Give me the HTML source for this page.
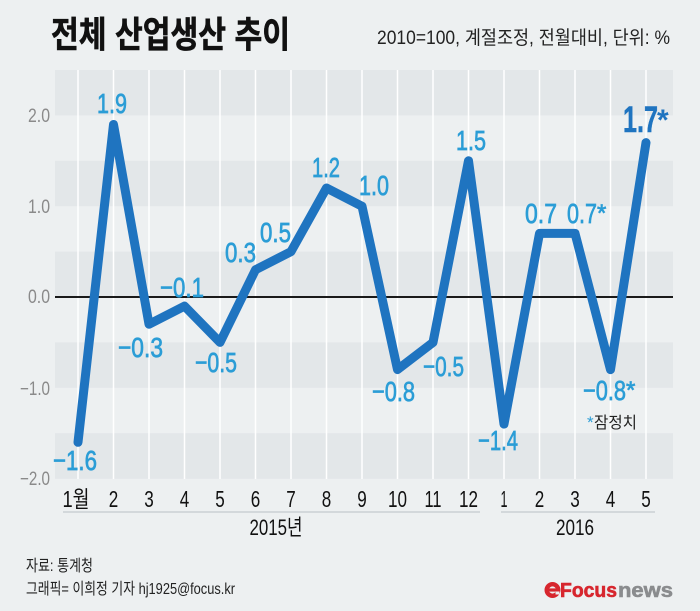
<!DOCTYPE html>
<html>
<head>
<meta charset="utf-8">
<style>
  html,body{margin:0;padding:0;background:#edf0f1;}
  svg{display:block;}
  text{font-family:"Liberation Sans","Noto Sans CJK KR",sans-serif;}
</style>
</head>
<body>
<svg width="700" height="611" viewBox="0 0 700 611" xmlns="http://www.w3.org/2000/svg">
  <rect x="0" y="0" width="700" height="611" fill="#edf0f1"/>

  <!-- bands -->
  <rect x="55" y="70" width="618" height="45.4" fill="#e3e7e9"/>
  <rect x="55" y="160.8" width="618" height="45.4" fill="#e3e7e9"/>
  <rect x="55" y="251.6" width="618" height="45.4" fill="#e3e7e9"/>
  <rect x="55" y="342.4" width="618" height="45.4" fill="#e3e7e9"/>
  <rect x="55" y="433.2" width="618" height="45.6" fill="#e3e7e9"/>

  <!-- vertical gridlines -->
  <g stroke="#ffffff" stroke-width="1.5">
    <line x1="78" y1="70" x2="78" y2="479"/>
    <line x1="113.5" y1="70" x2="113.5" y2="479"/>
    <line x1="149" y1="70" x2="149" y2="479"/>
    <line x1="184.5" y1="70" x2="184.5" y2="479"/>
    <line x1="220" y1="70" x2="220" y2="479"/>
    <line x1="255.5" y1="70" x2="255.5" y2="479"/>
    <line x1="291" y1="70" x2="291" y2="479"/>
    <line x1="326.5" y1="70" x2="326.5" y2="479"/>
    <line x1="362" y1="70" x2="362" y2="479"/>
    <line x1="397.5" y1="70" x2="397.5" y2="479"/>
    <line x1="433" y1="70" x2="433" y2="479"/>
    <line x1="468.5" y1="70" x2="468.5" y2="479"/>
    <line x1="504" y1="70" x2="504" y2="479"/>
    <line x1="539.5" y1="70" x2="539.5" y2="479"/>
    <line x1="575" y1="70" x2="575" y2="479"/>
    <line x1="610.5" y1="70" x2="610.5" y2="479"/>
    <line x1="646" y1="70" x2="646" y2="479"/>
  </g>

  <!-- zero line -->
  <line x1="55" y1="297" x2="673" y2="297" stroke="#1a1a1a" stroke-width="2"/>

  <!-- title -->
  <text x="51" y="47" font-size="36" font-weight="700" fill="#111" stroke="#111" stroke-width="0.6" textLength="239" lengthAdjust="spacingAndGlyphs">전체 산업생산 추이</text>
  <text x="377" y="44" font-size="19" fill="#222" textLength="293" lengthAdjust="spacingAndGlyphs">2010=100, 계절조정, 전월대비, 단위: %</text>

  <!-- y labels -->
  <g font-size="19" fill="#8a8a8a" text-anchor="end">
    <text x="50" y="122" textLength="22" lengthAdjust="spacingAndGlyphs">2.0</text>
    <text x="50" y="213" textLength="22" lengthAdjust="spacingAndGlyphs">1.0</text>
    <text x="50" y="303" textLength="22" lengthAdjust="spacingAndGlyphs">0.0</text>
    <text x="50" y="395" textLength="30" lengthAdjust="spacingAndGlyphs">−1.0</text>
    <text x="50" y="485" textLength="30" lengthAdjust="spacingAndGlyphs">−2.0</text>
  </g>

  <!-- data line -->
  <polyline fill="none" stroke="#1f74c0" stroke-width="9" stroke-linejoin="round" stroke-linecap="round"
    points="78,442.3 113.5,124.5 149,324.2 184.5,306.1 220,342.4 255.5,269.8 291,251.6 326.5,188 362,206.2 397.5,369.6 433,342.4 468.5,160.8 504,424.1 539.5,233.4 575,233.4 610.5,369.6 646,142.6"/>

  <!-- data labels -->
  <g font-size="28" fill="#2b9dd6" stroke="#2b9dd6" stroke-width="0.7">
    <text x="53" y="470" textLength="44" lengthAdjust="spacingAndGlyphs">−1.6</text>
    <text x="97" y="113" textLength="30" lengthAdjust="spacingAndGlyphs">1.9</text>
    <text x="118" y="357" textLength="45" lengthAdjust="spacingAndGlyphs">−0.3</text>
    <text x="160" y="297" textLength="44" lengthAdjust="spacingAndGlyphs">−0.1</text>
    <text x="195" y="372" textLength="42" lengthAdjust="spacingAndGlyphs">−0.5</text>
    <text x="225" y="262" textLength="31" lengthAdjust="spacingAndGlyphs">0.3</text>
    <text x="260" y="242" textLength="31" lengthAdjust="spacingAndGlyphs">0.5</text>
    <text x="312" y="177" textLength="28" lengthAdjust="spacingAndGlyphs">1.2</text>
    <text x="359" y="195" textLength="30" lengthAdjust="spacingAndGlyphs">1.0</text>
    <text x="372" y="401" textLength="43" lengthAdjust="spacingAndGlyphs">−0.8</text>
    <text x="423" y="376" textLength="41" lengthAdjust="spacingAndGlyphs">−0.5</text>
    <text x="456" y="150" textLength="30" lengthAdjust="spacingAndGlyphs">1.5</text>
    <text x="478" y="450" textLength="40" lengthAdjust="spacingAndGlyphs">−1.4</text>
    <text x="525" y="223" textLength="32" lengthAdjust="spacingAndGlyphs">0.7</text>
    <text x="567" y="223" textLength="30" lengthAdjust="spacingAndGlyphs">0.7</text>
    <text x="597" y="221" font-size="24">*</text>
    <text x="583" y="400" textLength="43" lengthAdjust="spacingAndGlyphs">−0.8</text>
    <text x="626" y="398" font-size="24">*</text>
  </g>
  <text x="623" y="132" font-size="37" font-weight="700" fill="#1f74c0" stroke="#1f74c0" stroke-width="0.5" textLength="35" lengthAdjust="spacingAndGlyphs">1.7</text>
  <text x="657" y="130" font-size="30" font-weight="700" fill="#1f74c0">*</text>

  <!-- provisional note -->
  <text x="587" y="428" font-size="17" fill="#2b9dd6">*</text>
  <text x="594" y="428" font-size="16" fill="#222" textLength="43" lengthAdjust="spacingAndGlyphs">잠정치</text>

  <!-- x labels -->
  <g font-size="23" fill="#111" text-anchor="middle">
    <text x="76" y="507" textLength="27" lengthAdjust="spacingAndGlyphs">1월</text>
    <text x="113.5" y="507" textLength="9.5" lengthAdjust="spacingAndGlyphs">2</text>
    <text x="149" y="507" textLength="9.5" lengthAdjust="spacingAndGlyphs">3</text>
    <text x="184.5" y="507" textLength="9.5" lengthAdjust="spacingAndGlyphs">4</text>
    <text x="220" y="507" textLength="9.5" lengthAdjust="spacingAndGlyphs">5</text>
    <text x="255.5" y="507" textLength="9.5" lengthAdjust="spacingAndGlyphs">6</text>
    <text x="291" y="507" textLength="9.5" lengthAdjust="spacingAndGlyphs">7</text>
    <text x="326.5" y="507" textLength="9.5" lengthAdjust="spacingAndGlyphs">8</text>
    <text x="362" y="507" textLength="9.5" lengthAdjust="spacingAndGlyphs">9</text>
    <text x="397.5" y="507" textLength="19" lengthAdjust="spacingAndGlyphs">10</text>
    <text x="433" y="507" textLength="17" lengthAdjust="spacingAndGlyphs">11</text>
    <text x="468.5" y="507" textLength="19" lengthAdjust="spacingAndGlyphs">12</text>
    <text x="504" y="507" textLength="7" lengthAdjust="spacingAndGlyphs">1</text>
    <text x="539.5" y="507" textLength="9.5" lengthAdjust="spacingAndGlyphs">2</text>
    <text x="575" y="507" textLength="9.5" lengthAdjust="spacingAndGlyphs">3</text>
    <text x="610.5" y="507" textLength="9.5" lengthAdjust="spacingAndGlyphs">4</text>
    <text x="646" y="507" textLength="9.5" lengthAdjust="spacingAndGlyphs">5</text>
  </g>
  <rect x="63" y="511" width="417" height="2" fill="#d3d8db"/>
  <rect x="501" y="511" width="154" height="2" fill="#d3d8db"/>
  <g font-size="22" fill="#111" text-anchor="middle">
    <text x="276" y="535" textLength="53" lengthAdjust="spacingAndGlyphs">2015년</text>
    <text x="575" y="535" textLength="38" lengthAdjust="spacingAndGlyphs">2016</text>
  </g>

  <!-- footer -->
  <text x="26" y="571" font-size="16" fill="#222" textLength="67" lengthAdjust="spacingAndGlyphs">자료: 통계청</text>
  <text x="26" y="594" font-size="16" fill="#222" textLength="209" lengthAdjust="spacingAndGlyphs">그래픽= 이희정 기자 hj1925@focus.kr</text>

  <!-- logo -->
  <g>
    <circle cx="552.5" cy="590" r="5.8" fill="none" stroke="#d7262e" stroke-width="4.4"/>
    <rect x="548" y="588.4" width="9" height="3.2" fill="#d7262e"/>
    <rect x="555.5" y="591.5" width="4" height="3" fill="#edf0f1"/>
    <text x="560" y="597" font-size="20" font-weight="700" fill="#d7262e" stroke="#d7262e" stroke-width="0.6" textLength="57" lengthAdjust="spacingAndGlyphs">Focus</text>
    <text x="618" y="597" font-size="20" font-weight="700" fill="#8a8c8e" stroke="#8a8c8e" stroke-width="0.6" textLength="55" lengthAdjust="spacingAndGlyphs">news</text>
  </g>
</svg>
</body>
</html>
